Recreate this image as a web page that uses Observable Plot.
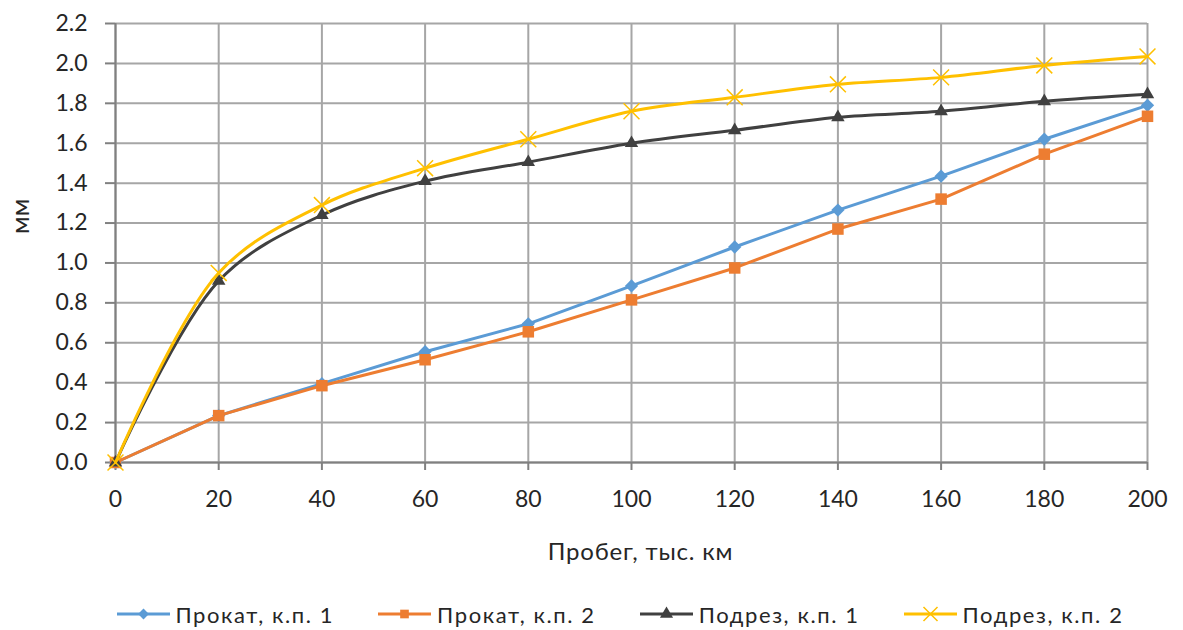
<!DOCTYPE html>
<html><head><meta charset="utf-8">
<script src="https://cdn.jsdelivr.net/npm/d3@7"></script>
<script src="https://cdn.jsdelivr.net/npm/@observablehq/plot@0.6"></script>
<style>
body{margin:0;background:#fff;font-family:Lato,sans-serif;overflow:hidden;}
#legend{display:flex;justify-content:center;gap:44px;font-size:22px;letter-spacing:1.6px;color:#262626;height:50px;align-items:center;padding-left:57px;padding-top:9px;}
.item{display:flex;align-items:center;gap:6px;}
</style></head><body><div id="chart"></div><div id="legend"></div>
<script>
const mileage = [0, 20, 40, 60, 80, 100, 120, 140, 160, 180, 200];
const prokat1 = [0, 0.235, 0.395, 0.555, 0.695, 0.885, 1.08, 1.265, 1.435, 1.62, 1.79];
const prokat2 = [0, 0.235, 0.385, 0.515, 0.655, 0.815, 0.975, 1.17, 1.32, 1.545, 1.735];
const podrez1 = [0, 0.91, 1.24, 1.41, 1.505, 1.60, 1.665, 1.73, 1.76, 1.81, 1.845];
const podrez2 = [0, 0.95, 1.29, 1.475, 1.62, 1.76, 1.83, 1.895, 1.93, 1.99, 2.035];
const seriesNames = ["Прокат, к.п. 1", "Прокат, к.п. 2", "Подрез, к.п. 1", "Подрез, к.п. 2"];
const seriesValues = [prokat1, prokat2, podrez1, podrez2];
const colors = ["#5B9BD5", "#ED7D31", "#404040", "#FFC000"];
const symbols = ["diamond2", "square", "triangle", "times"];
const curves = ["linear", "linear", "catmull-rom", "catmull-rom"];
const xTicks = [0, 20, 40, 60, 80, 100, 120, 140, 160, 180, 200];
const yTicks = [0, 0.2, 0.4, 0.6, 0.8, 1.0, 1.2, 1.4, 1.6, 1.8, 2.0, 2.2];
const xLabel = "Пробег, тыс. км";
const yLabel = "мм";

const rows = seriesNames.map((name, i) => mileage.map((m, j) => ({series: name, x: m, y: seriesValues[i][j]})));

const marks = [
  Plot.gridX(xTicks, {stroke: "#a6a6a6", strokeOpacity: 1, strokeWidth: 2}),
  Plot.gridY(yTicks, {stroke: "#a6a6a6", strokeOpacity: 1, strokeWidth: 2}),
  Plot.ruleX([0], {stroke: "#808080", strokeWidth: 2}),
  Plot.ruleY([0], {stroke: "#808080", strokeWidth: 2}),
  Plot.axisX({ticks: xTicks, tickSize: 8, tickPadding: 20, stroke: "#808080", strokeWidth: 2, fontSize: 23, fill: "#262626", label: null}),
  Plot.axisY({ticks: yTicks, tickSize: 10, tickPadding: 18, stroke: "#808080", strokeWidth: 2, fontSize: 23, fill: "#262626", tickFormat: d => d.toFixed(1), label: null}),
  Plot.text([xLabel], {frameAnchor: "bottom", dy: 90, dx: 9, lineAnchor: "middle", fontSize: 24, fill: "#262626"}),
  Plot.text([yLabel], {frameAnchor: "left", rotate: -90, dx: -95, dy: -9, lineAnchor: "middle", fontSize: 25, fill: "#262626"})
];
rows.forEach((data, i) => {
  marks.push(Plot.line(data, {x: "x", y: "y", stroke: colors[i], strokeWidth: 3, curve: curves[i]}));
  if (symbols[i] === "times") {
    marks.push(Plot.dot(data, {x: "x", y: "y", symbol: symbols[i], stroke: colors[i], strokeWidth: 1.5, r: 7.3}));
  } else {
    const r = symbols[i] === "square" ? 6.5 : symbols[i] === "triangle" ? 5 : 6;
    marks.push(Plot.dot(data, {x: "x", y: "y", symbol: symbols[i], fill: colors[i], stroke: "none", r}));
  }
});

const chart = Plot.plot({
  width: 1183,
  height: 580,
  marginLeft: 115,
  marginRight: 36,
  marginTop: 23,
  marginBottom: 118,
  style: {fontFamily: "Lato, sans-serif", color: "#262626", background: "#fff"},
  x: {domain: [0, 200]},
  y: {domain: [0, 2.2]},
  marks
});
chart.querySelectorAll("text").forEach(t => { if (t.textContent === xLabel) t.setAttribute("letter-spacing", "0.8"); });
document.getElementById("chart").appendChild(chart);

const legend = document.getElementById("legend");
const symbolPaths = {diamond2: d3.symbolDiamond2, square: d3.symbolSquare, triangle: d3.symbolTriangle, times: d3.symbolTimes};
seriesNames.forEach((name, i) => {
  const item = document.createElement("div");
  item.className = "item";
  const svg = d3.create("svg").attr("width", 53).attr("height", 20);
  svg.append("line").attr("x1", 0).attr("x2", 53).attr("y1", 10).attr("y2", 10).attr("stroke", colors[i]).attr("stroke-width", 3);
  const size = symbols[i] === "times" ? 130 : 75;
  const p = svg.append("path").attr("transform", "translate(26.5,10)").attr("d", d3.symbol(symbolPaths[symbols[i]], size)());
  if (symbols[i] === "times") p.attr("fill", "none").attr("stroke", colors[i]).attr("stroke-width", 1.5);
  else p.attr("fill", colors[i]);
  item.appendChild(svg.node());
  const span = document.createElement("span");
  span.textContent = name;
  item.appendChild(span);
  legend.appendChild(item);
});
</script></body></html>
